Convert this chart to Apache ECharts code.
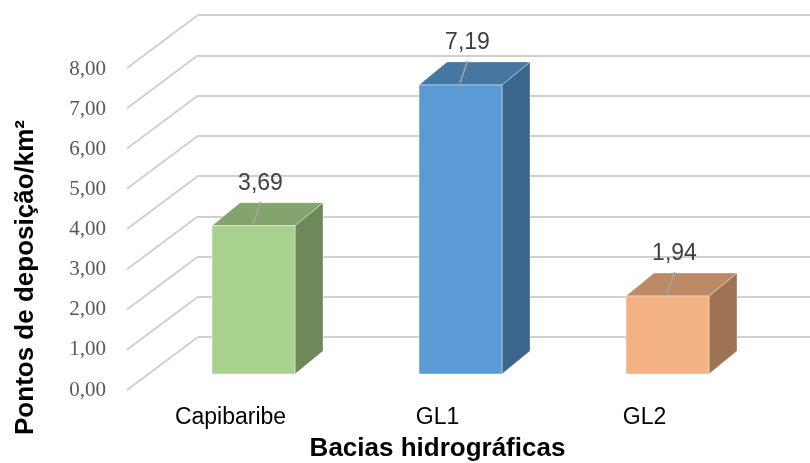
<!DOCTYPE html>
<html>
<head>
<meta charset="utf-8">
<script src="https://cdn.jsdelivr.net/npm/echarts@6/dist/echarts.min.js"></script>
<style>html,body{margin:0;padding:0;background:#fff}#c{width:810px;height:463px}</style>
</head>
<body>
<div id="c"></div>
<script>
const categories = ['Capibaribe', 'GL1', 'GL2'];
const values = [3.69, 7.19, 1.94];
const yTicks = [0, 1, 2, 3, 4, 5, 6, 7, 8];
const xTitle = 'Bacias hidrográficas';
const yTitle = 'Pontos de deposição/km²';

const frontColors = ['#A9D18E', '#5B9BD5', '#F4B183'];
const sideColors = ['#6E885C', '#3C658B', '#9E7354'];
const topColors = ['#84A46E', '#4677A3', '#BC8A66'];

const chart = echarts.init(document.getElementById('c'), null, {renderer: 'canvas'});
const fmt = v => v.toFixed(2).replace('.', ',');

const option = {
  animation: false,
  backgroundColor: '#fff',
  grid: [
    {left: 198, right: 0, top: 15, bottom: 126},          // back wall
    {left: 127, width: 621, top: 69, bottom: 73},         // front edge (labels)
    {left: 150, width: 621, top: 52.4, bottom: 89}        // bars
  ],
  xAxis: [
    {gridIndex: 0, type: 'value', min: 0, max: 1, show: false},
    {gridIndex: 1, type: 'category', data: categories,
      axisLine: {show: false}, axisTick: {show: false},
      axisLabel: {margin: 16, fontFamily: 'Liberation Sans, Arial', fontSize: 23, color: '#000'}},
    {gridIndex: 2, type: 'category', data: categories, show: false}
  ],
  yAxis: [
    {gridIndex: 0, type: 'value', min: 0, max: 8, interval: 1,
      axisLine: {show: false}, axisTick: {show: false}, axisLabel: {show: false},
      splitLine: {show: true, lineStyle: {color: '#d0d0d0', width: 2}}},
    {gridIndex: 1, type: 'value', min: 0, max: 8, interval: 1,
      axisLine: {show: false}, axisTick: {show: false}, splitLine: {show: false},
      axisLabel: {margin: 21, formatter: v => fmt(v), fontFamily: 'Liberation Serif, Times New Roman', fontSize: 21, color: '#595959'}},
    {gridIndex: 2, type: 'value', min: 0, max: 8, interval: 1, show: false, splitLine: {show: false}}
  ],
  series: [
    {
      type: 'custom', xAxisIndex: 0, yAxisIndex: 0, z: 1,
      data: yTicks.map(v => [0, v]),
      renderItem: function (params, api) {
        const p = api.coord([0, api.value(1)]);
        return {type: 'line', shape: {x1: p[0], y1: p[1], x2: p[0] - 71, y2: p[1] + 53},
          style: {stroke: '#d0d0d0', lineWidth: 2}};
      }
    },
    {
      type: 'custom', xAxisIndex: 2, yAxisIndex: 2, z: 5,
      data: values.map((v, i) => [i, v]),
      renderItem: function (params, api) {
        const i = api.value(0), v = api.value(1);
        const base = api.coord([i, 0]);
        const top = api.coord([i, v]);
        const w = 83, dx = 28, dy = -23;
        const x0 = base[0] - w / 2, x1 = base[0] + w / 2;
        const yt = top[1], yb = base[1];
        return {
          type: 'group',
          children: [
            {type: 'polygon', shape: {points: [[x1, yt], [x1 + dx, yt + dy], [x1 + dx, yb + dy], [x1, yb]]},
              style: {fill: sideColors[i], stroke: 'rgba(255,255,255,0.35)', lineWidth: 1}},
            {type: 'polygon', shape: {points: [[x0, yt], [x0 + dx, yt + dy], [x1 + dx, yt + dy], [x1, yt]]},
              style: {fill: topColors[i], stroke: 'rgba(255,255,255,0.35)', lineWidth: 1}},
            {type: 'rect', shape: {x: x0, y: yt, width: w, height: yb - yt},
              style: {fill: frontColors[i], stroke: 'rgba(255,255,255,0.45)', lineWidth: 1}},
            {type: 'line', shape: {x1: base[0] + 7, y1: yt - 24, x2: base[0] - 0.5, y2: yt - 2},
              style: {stroke: '#a6a6a6', lineWidth: 1.5}},
            {type: 'text', x: base[0] + 7, y: yt - 42,
              style: {text: fmt(v), fill: '#404040', font: '23px "Liberation Sans", Arial', align: 'center', verticalAlign: 'middle'}}
          ]
        };
      }
    }
  ],
  graphic: [
    {type: 'text', x: 437.5, y: 449, style: {text: xTitle, fill: '#000', font: 'bold 26px "Liberation Sans", Arial', align: 'center', verticalAlign: 'middle'}},
    {type: 'text', x: 26, y: 277.5, rotation: Math.PI / 2,
      style: {text: yTitle, fill: '#000', font: 'bold 26px "Liberation Sans", Arial', align: 'center', verticalAlign: 'middle'}}
  ]
};
chart.setOption(option);
</script>
</body>
</html>
